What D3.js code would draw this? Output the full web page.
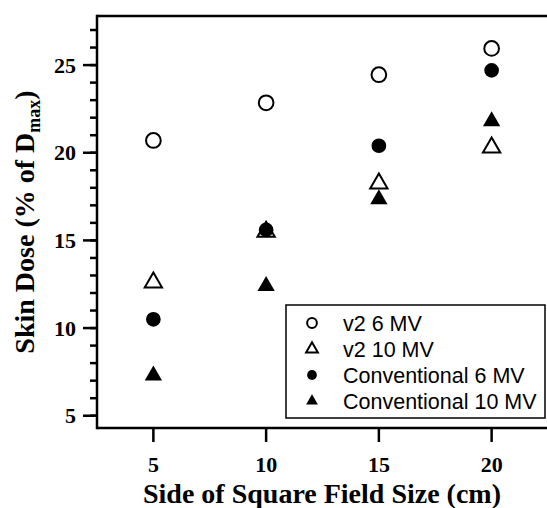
<!DOCTYPE html>
<meta charset="utf-8">
<style>

html, body {
  margin: 0;
  padding: 0;
  background: #fff;
}

svg {
  display: block;
}

.tick-label {
  font-family: "Liberation Serif", "Times New Roman", serif;
  font-weight: bold;
  font-size: 22px;
}

.axis-title {
  font-family: "Liberation Serif", "Times New Roman", serif;
  font-weight: bold;
  font-size: 28px;
}

.legend text {
  font-family: "Liberation Sans", Arial, sans-serif;
  font-size: 21.5px;
}

</style>
<svg class="chart"></svg>
<script src="https://d3js.org/d3.v7.min.js"></script>
<script>

var width = 547;
var height = 508;

var fieldSizes = [5, 10, 15, 20];

var v2SixMV = [20.7, 22.85, 24.45, 25.95];
var v2TenMV = [12.6, 15.5, 18.25, 20.3];
var convSixMV = [10.5, 15.6, 20.4, 24.7];
var convTenMV = [7.3, 12.4, 17.35, 21.8];

var xTicks = [5, 10, 15, 20];
var yTicks = [5, 10, 15, 20, 25];
var yMinorTicks = d3.range(5, 28);

var series = [
  {name: 'v2 6 MV', values: v2SixMV, shape: 'circle', filled: false},
  {name: 'v2 10 MV', values: v2TenMV, shape: 'triangle', filled: false},
  {name: 'Conventional 6 MV', values: convSixMV, shape: 'circle', filled: true},
  {name: 'Conventional 10 MV', values: convTenMV, shape: 'triangle', filled: true}
];

var margin = {left: 97, top: 16, bottom: 80};

var svg = d3.select('svg.chart')
  .attr('width', width)
  .attr('height', height);

var x = d3.scaleLinear()
  .domain([2.5, 22.5])
  .range([margin.left, 548]);

var y = d3.scaleLinear()
  .domain([4.3, 27.8])
  .range([height - margin.bottom, margin.top]);

function symbolPath(shape, big) {
  if (shape === 'circle') {
    return d3.symbol().type(d3.symbolCircle).size(big ? 170 : 75)();
  }
  return d3.symbol().type(d3.symbolTriangle).size(big ? 130 : 60)();
}

// frame (right side runs past the edge of the picture)
var frame = svg.append('g')
  .attr('stroke', '#000')
  .attr('stroke-width', 2.5)
  .attr('fill', 'none');

frame.append('line')
  .attr('x1', x.range()[0]).attr('x2', width + 5)
  .attr('y1', y.range()[1]).attr('y2', y.range()[1]);

frame.append('line')
  .attr('x1', x.range()[0]).attr('x2', width + 5)
  .attr('y1', y.range()[0]).attr('y2', y.range()[0]);

frame.append('line')
  .attr('x1', x.range()[0]).attr('x2', x.range()[0])
  .attr('y1', y.range()[1] - 1.25).attr('y2', y.range()[0] + 1.25);

// y axis ticks
var yAxisG = svg.append('g')
  .attr('stroke', '#000')
  .attr('stroke-width', 2.5);

yAxisG.selectAll('line.minor')
  .data(yMinorTicks)
  .enter().append('line')
    .attr('class', 'minor')
    .attr('x1', x.range()[0] - 7)
    .attr('x2', x.range()[0])
    .attr('y1', function (d) { return y(d); })
    .attr('y2', function (d) { return y(d); });

yAxisG.selectAll('line.major')
  .data(yTicks)
  .enter().append('line')
    .attr('class', 'major')
    .attr('x1', x.range()[0] - 14)
    .attr('x2', x.range()[0])
    .attr('y1', function (d) { return y(d); })
    .attr('y2', function (d) { return y(d); });

svg.append('g').selectAll('text')
  .data(yTicks)
  .enter().append('text')
    .attr('class', 'tick-label')
    .attr('x', x.range()[0] - 21)
    .attr('y', function (d) { return y(d); })
    .attr('dy', '0.34em')
    .attr('text-anchor', 'end')
    .text(function (d) { return d; });

// x axis ticks
svg.append('g')
    .attr('stroke', '#000')
    .attr('stroke-width', 2.5)
  .selectAll('line')
  .data(xTicks)
  .enter().append('line')
    .attr('x1', function (d) { return x(d); })
    .attr('x2', function (d) { return x(d); })
    .attr('y1', y.range()[0])
    .attr('y2', y.range()[0] + 14);

svg.append('g').selectAll('text')
  .data(xTicks)
  .enter().append('text')
    .attr('class', 'tick-label')
    .attr('x', function (d) { return x(d); })
    .attr('y', 472)
    .attr('text-anchor', 'middle')
    .text(function (d) { return d; });

// axis titles
svg.append('text')
  .attr('class', 'axis-title')
  .attr('x', (x.range()[0] + width) / 2)
  .attr('y', 503)
  .attr('text-anchor', 'middle')
  .text('Side of Square Field Size (cm)');

var yTitle = svg.append('text')
  .attr('class', 'axis-title')
  .attr('transform', 'translate(34,' + ((y.range()[0] + y.range()[1]) / 2) + ') rotate(-90)')
  .attr('text-anchor', 'middle');

yTitle.append('tspan').text('Skin Dose (% of D');
yTitle.append('tspan')
  .attr('dy', 6)
  .style('font-size', '18px')
  .text('max');
yTitle.append('tspan')
  .attr('dy', -6)
  .text(')');

// points
var seriesG = svg.selectAll('g.series')
  .data(series)
  .enter().append('g')
    .attr('class', 'series');

seriesG.selectAll('path')
  .data(function (s) {
    return s.values.map(function (v, i) { return {s: s, x: fieldSizes[i], y: v}; });
  })
  .enter().append('path')
    .attr('transform', function (d) { return 'translate(' + x(d.x) + ',' + y(d.y) + ')'; })
    .attr('d', function (d) { return symbolPath(d.s.shape, true); })
    .attr('fill', function (d) { return d.s.filled ? '#000' : '#fff'; })
    .attr('stroke', '#000')
    .attr('stroke-width', function (d) { return d.s.filled ? 0 : 2; });

// legend
var legend = svg.append('g')
  .attr('class', 'legend')
  .attr('transform', 'translate(286,305)');

legend.append('rect')
  .attr('width', 259)
  .attr('height', 113)
  .attr('fill', '#fff')
  .attr('stroke', '#000')
  .attr('stroke-width', 1.5);

var legendItem = legend.selectAll('g.item')
  .data(series)
  .enter().append('g')
    .attr('class', 'item')
    .attr('transform', function (d, i) { return 'translate(0,' + (18 + i * 26) + ')'; });

legendItem.append('path')
  .attr('transform', 'translate(26,0)')
  .attr('d', function (d) { return symbolPath(d.shape, false); })
  .attr('fill', function (d) { return d.filled ? '#000' : '#fff'; })
  .attr('stroke', '#000')
  .attr('stroke-width', function (d) { return d.filled ? 0 : 2; });

legendItem.append('text')
  .attr('x', 57)
  .attr('dy', '0.36em')
  .text(function (d) { return d.name; });

</script>
